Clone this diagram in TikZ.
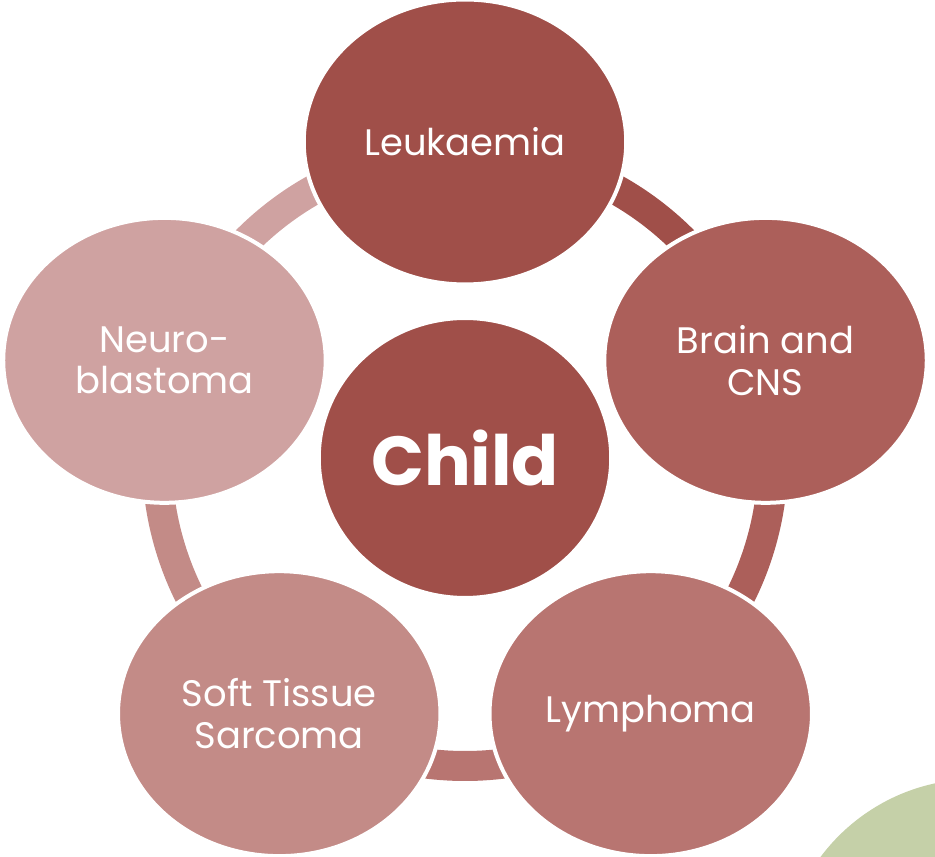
\documentclass[tikz,border=0pt]{standalone}
\usepackage{fontspec}
\setmainfont{Poppins}
\usetikzlibrary{positioning, shapes.geometric}
\definecolor{rleuk}{HTML}{A04F49}
\definecolor{rbrain}{HTML}{AC5F5A}
\definecolor{rlymph}{HTML}{B87571}
\definecolor{rsoft}{HTML}{C38B87}
\definecolor{rneuro}{HTML}{CFA2A1}
\definecolor{rgreen}{HTML}{C5D0A8}

\tikzset{
  outer/.style={ellipse, draw=white, line width=0.08cm, inner sep=0pt,
                minimum width=6.45cm, minimum height=5.7cm, text=white,
                align=center, font=\fontsize{21}{23.8}\selectfont},
  hub/.style={ellipse, draw=white, line width=0.08cm, inner sep=0pt,
              minimum width=5.85cm, minimum height=5.6cm, text=white,
              fill=rleuk, font=\fontsize{39.5}{44}\selectfont\bfseries}
}

\begin{document}
\begin{tikzpicture}[x=0.02cm, y=0.02cm]
  \useasboundingbox (-465,-399) rectangle (470,458);
  \begin{scope}
    \clip (-465,-399) rectangle (470,458);
    \fill[rgreen] (511,-515) circle[radius=194];
  \end{scope}
  % ring segments
  \foreach \a/\col in {90/rleuk, 18/rbrain, -54/rlymph, -126/rsoft, 162/rneuro}
    \draw[line width=0.6cm, color=\col] (\a:308) arc[start angle=\a, delta angle=-72, radius=308];
  % circles
  \node[hub] (child) at (0,0) {Child};
  \node[outer, fill=rleuk] (leuk) at (90:316) {Leukaemia};
  \node[outer, fill=rbrain] (brain) at (18:316) {Brain and\\CNS};
  \node[outer, fill=rlymph] (lymph) at (-54:316) {Lymphoma};
  \node[outer, fill=rsoft] (soft) at (-126:316) {Soft Tissue\\Sarcoma};
  \node[outer, fill=rneuro] (neuro) at (162:316) {Neuro-\\blastoma};
\end{tikzpicture}
\end{document}
